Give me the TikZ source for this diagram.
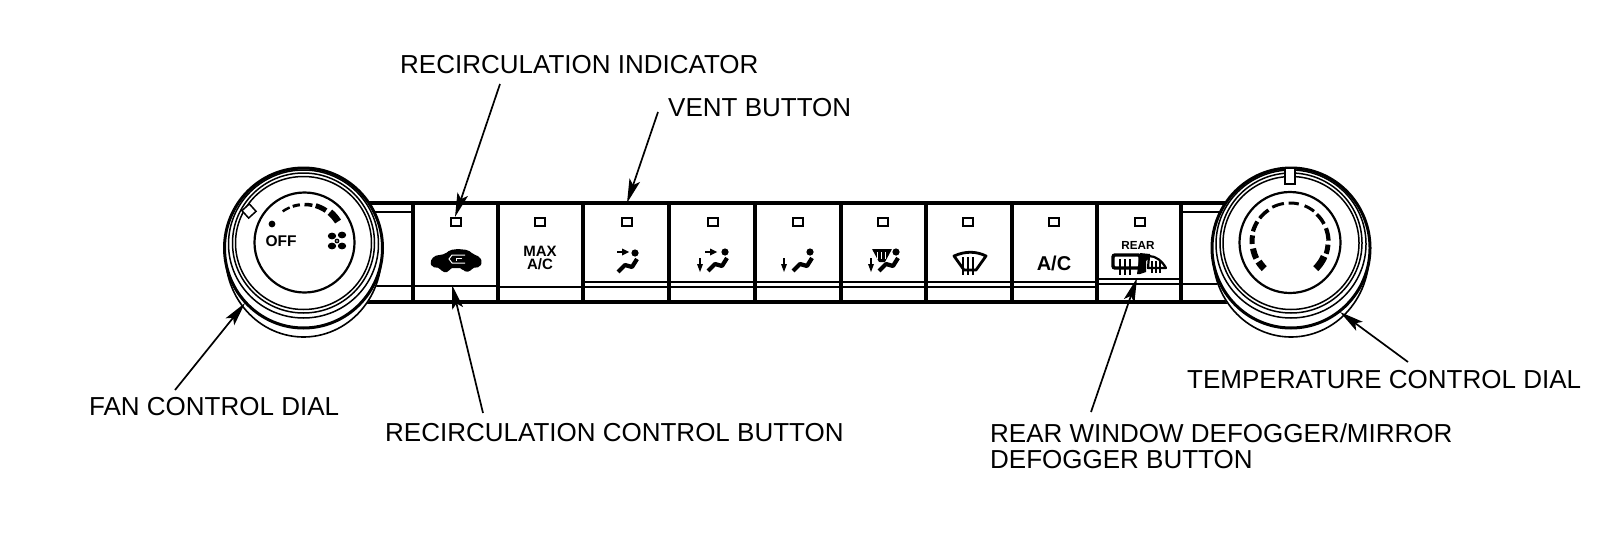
\documentclass[tikz,border=0pt]{standalone}
\usepackage{fontspec}
\setmainfont{Liberation Sans}
\usetikzlibrary{arrows.meta}
\tikzset{
  lbl/.style={font=\fontsize{26}{26}\selectfont,inner sep=0pt,anchor=west,text=black},
  lead/.style={line width=1.7pt,-{Stealth[length=24pt,width=11pt,inset=5pt]}},
  lamp/.style={draw=black,line width=2pt,fill=white,minimum width=9.5pt,minimum height=7.5pt,inner sep=0pt},
  heavy/.style={line width=3.3pt},
  thin rule/.style={line width=1.9pt},
  panel text/.style={font=\bfseries,inner sep=0pt,text=black}
}
\newcommand{\darc}[6]{\draw[line width=#6pt] plot[domain=#4:#5,samples=8] ({#1+#3*cos(\x)},{#2-#3*sin(\x)});}
\newcommand{\dialrings}[1]{
  \fill[white] (#1,253) circle[x radius=79pt,y radius=85pt];
  \draw[line width=1.6pt] plot[domain=180:360,samples=60] ({#1+78*cos(\x)},{255-82*sin(\x)});
  \draw[line width=3pt,fill=white] (#1,248) circle[x radius=79pt,y radius=80pt];
  \draw[line width=1.5pt] (#1,244) circle[x radius=75pt,y radius=74pt];
  \draw[line width=1.5pt] (#1,243) circle[x radius=71pt,y radius=70pt];
  \draw[line width=1.5pt] (#1,243) circle[x radius=68pt,y radius=66.5pt];
}
\newcommand{\seated}[2]{% head position
  \fill (#1,#2) circle[radius=3.6pt];
  \draw[line width=4.2pt,line join=round] (#1-17,#2+19) -- (#1-10,#2+12) -- (#1-3,#2+14) -- (#1+2,#2+6);
}
\newcommand{\dnarrow}[2]{
  \draw[line width=2pt] (#1,#2) -- (#1,#2+8);
  \fill (#1-3,#2+6) -- (#1+3,#2+6) -- (#1,#2+14) -- cycle;
}
\newcommand{\sidearrow}[2]{
  \draw[line width=2.6pt] (#1,#2) -- (#1+8,#2);
  \fill (#1+5,#2-3.5) -- (#1+12,#2) -- (#1+5,#2+3.5) -- cycle;
}
\begin{document}
\begin{tikzpicture}[x=1pt,y=-1pt]
\useasboundingbox (0,0) rectangle (1600,538);
% rails and panel
\draw[heavy] (340,203) -- (1230,203);
\draw[heavy] (340,302) -- (1230,302);
\draw[thin rule] (340,212) -- (413,212);
\draw[thin rule] (340,286) -- (498,286);
\draw[thin rule] (498,287) -- (1097,287);
\draw[thin rule] (583,282) -- (1097,282);
\draw[thin rule] (1097,279) -- (1181,279);
\draw[thin rule] (1097,284) -- (1230,284);
\draw[thin rule] (1181,212) -- (1230,212);
\foreach \vx in {413,498,583,669,755,841,926,1012,1097,1181}
  \draw[heavy] (\vx,203) -- (\vx,303);
% indicators
\foreach \n/\ix in {1/456,2/540,3/627,4/713,5/798,6/883,7/968,8/1054,9/1140}
  \node[lamp] (ind\n) at (\ix,222) {};
% recirculation car
\fill[line join=round,rounded corners=2pt] (430,262) -- (434,256) -- (445,254) -- (450,250) -- (458,249) -- (468,250) -- (473,254) -- (480,257) -- (482,262) -- (480,267) -- (472,268) -- (470,272) -- (463,271) -- (462,268) -- (450,268) -- (449,272) -- (442,272) -- (440,268) -- (432,267) -- cycle;
\draw[white,line width=1pt] (465,255) -- (452,255) -- (449,259) -- (452,263) -- (465,263);
\draw[white,line width=1pt] (462,258.5) -- (456,258.5) -- (456,261);
% MAX A/C
\node[panel text,font=\fontsize{15}{12}\bfseries] (maxac) at (540,251) {MAX};
\node[panel text,font=\fontsize{15}{12}\bfseries] (maxac2) at (540,264.5) {A/C};
% seat icons
\sidearrow{617}{252}\seated{635}{253}
\sidearrow{705}{252}\seated{725}{252}\dnarrow{700}{258}
\seated{810}{252}\dnarrow{784}{258}
\seated{896}{252}\dnarrow{871}{258}
% small windshield
\fill[rounded corners=.5pt] (872,249) -- (892,249) -- (885,262) -- (879,262) -- cycle;
\foreach \wx in {877,881,885} \draw[white,line width=.8pt] (\wx,252) -- (\wx,259);
% large windshield
\draw[line width=2.8pt,line join=round] (954,256) .. controls (965,251) and (976,251) .. (986,256) -- (976,270) -- (964,270) -- cycle;
\foreach \wx in {963,968,973} {\draw[line width=2pt] (\wx,257) -- (\wx,275);}
\node[panel text,font=\fontsize{20}{20}\bfseries] (ac) at (1054,263) {A/C};
\node[panel text,font=\fontsize{11.7}{11}\bfseries] (rear) at (1138,245) {REAR};
% rear window / mirror icon
\draw[line width=3.4pt,rounded corners=2pt] (1113,255) rectangle (1140,268);
\foreach \wx in {1120,1125,1130} {\draw[line width=1.6pt] (\wx,259) -- (\wx,275);}
\fill (1140,253) -- (1150,254) -- (1150,258) -- (1146,261) -- (1146,272) -- (1140,274) -- (1137,274) -- cycle;
\draw[line width=2.2pt,line join=round] (1148,268) -- (1149,256) .. controls (1156,256) and (1162,261) .. (1166,268) -- cycle;
\foreach \wx in {1152,1156,1160} {\draw[line width=1.2pt] (\wx,261) -- (\wx,273);}
% left dial
\dialrings{303.5}
\draw[line width=2.2pt,fill=white] (304.5,242.5) circle[radius=50pt];
\draw[line width=1.5pt,fill=white,rotate around={42:(249,211)}] (244,206) rectangle (254,216);
\fill (272,224) circle[radius=3.4pt];
\node[panel text,font=\fontsize{15.5}{15}\bfseries] (off) at (281,241) {OFF};
\darc{304.5}{242.5}{38}{125}{113}{2.5}
\darc{304.5}{242.5}{38}{108}{97}{3}
\darc{304.5}{242.5}{38}{90}{78}{3.5}
\darc{304.5}{242.5}{38.5}{73}{56}{5}
\darc{304.5}{242.5}{39.5}{50}{32}{7}
% fan glyph
\foreach \fa/\fb in {332/236,342/235,342/246,332/246} {\fill (\fa,\fb) ellipse[x radius=4.2pt,y radius=3.4pt];}
\fill (337,241) circle[radius=2.4pt];
\fill[white] (337,241) circle[radius=.8pt];
% right dial
\dialrings{1291}
\draw[line width=2.2pt,fill=white] (1290,242.5) circle[radius=50.5pt];
\draw[line width=1.5pt,fill=white] (1285,168) rectangle (1295,184);
\darc{1290}{242}{37}{226}{212}{7}
\darc{1290}{242}{37.5}{206}{190}{6}
\darc{1290}{242}{38}{183}{170}{5}
\darc{1290}{242}{38.5}{164}{148}{4.2}
\darc{1290}{242}{38.5}{142}{124}{3.6}
\darc{1290}{242}{39}{117}{99}{3}
\darc{1290}{242}{39}{92}{77}{3}
\darc{1290}{242}{39}{68}{52}{3}
\darc{1290}{242}{38.5}{46}{28}{3.6}
\darc{1290}{242}{38.5}{21}{2}{4.2}
\darc{1290}{242}{38}{-4}{-18}{5}
\darc{1290}{242}{37}{-23}{-46}{7}
% labels
\node[lbl] (lrecind) at (400,65) {RECIRCULATION INDICATOR};
\node[lbl] (lvent) at (668,108) {VENT BUTTON};
\node[lbl] (lfan) at (89,407) {FAN CONTROL DIAL};
\node[lbl] (lrecbtn) at (385,433) {RECIRCULATION CONTROL BUTTON};
\node[lbl] (lrear) at (990,433) {REAR WINDOW DEFOGGER/MIRROR};
\node[lbl] (lrear2) at (990,460) {DEFOGGER BUTTON};
\node[lbl] (ltemp) at (1187,380) {TEMPERATURE CONTROL DIAL};
% leaders
\coordinate (s1) at (500,84);   \coordinate (t1) at (455,217);
\coordinate (s2) at (658,112);  \coordinate (t2) at (627,203);
\coordinate (s3) at (175,390);  \coordinate (t3) at (245,303);
\coordinate (s4) at (483,413);  \coordinate (t4) at (452,285);
\coordinate (s5) at (1091,412); \coordinate (t5) at (1137,278);
\coordinate (s6) at (1408,362); \coordinate (t6) at (1340,312);
\foreach \k in {1,...,6} \draw[lead] (s\k) -- (t\k);
\end{tikzpicture}
\end{document}
